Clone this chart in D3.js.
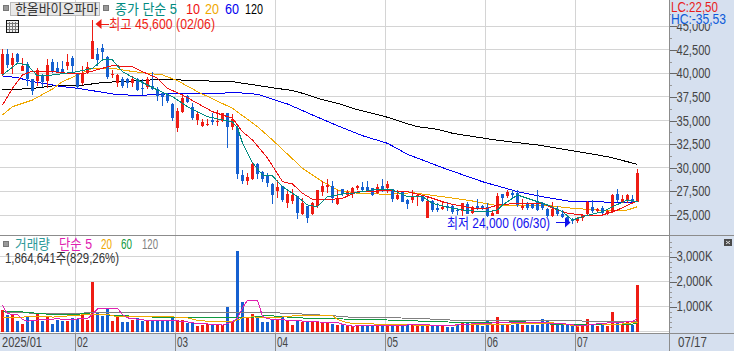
<!DOCTYPE html>
<html>
<head>
<meta charset="utf-8">
<style>
  html, body { margin: 0; padding: 0; background: #fff; overflow: hidden; }
  text { font-family: "Liberation Sans", "Noto Sans CJK KR", sans-serif; }
  .crisp { shape-rendering: crispEdges; }
</style>
</head>
<body>
<svg id="chart" width="734" height="351"></svg>
<script src="https://cdn.jsdelivr.net/npm/d3@7"></script>
<script>
'use strict';

const opens = [
  39900,42000,40850,42000,40250,41000,39350,39200,39700,39200,
  41150,40600,40500,40750,41650,40000,39000,40150,41550,42000,
  42650,41750,39800,39000,39450,39350,39000,39450,38450,38550,
  38700,38300,37950,37850,36800,34200,35900,37650,36450,35050,
  34400,34550,35100,34800,34900,35750,34300,34200,29250,28550,
  28800,30400,29500,29250,28300,27550,28050,26250,26500,27000,
  25100,25900,25100,25950,27450,28000,28050,26150,27700,27100,
  27200,27850,27950,27950,27850,27350,28050,27900,27700,26650,
  27450,26600,26600,27000,27000,24700,26500,25700,25600,26000,
  25900,25500,25450,26150,25250,26000,25950,25800,24900,25150,
  27200,27000,27350,27350,25750,26250,26250,26350,26150,25650,
  24900,25650,25100,24750,24450,24350,24650,25100,25800,25400,
  25700,25250,25400,27200,26300,26600,26650,26400];
const highs = [
  42550,42550,42200,42200,41650,41150,39400,40600,39900,41500,
  41500,41150,41300,42000,41850,40050,40750,41150,45600,42700,
  43100,41850,40350,39900,39650,39550,39700,39550,39350,39650,
  40150,38550,38000,37950,36850,36350,37750,37750,36850,36000,
  35200,35200,35800,36150,35850,35800,35650,34450,29800,29400,
  30550,30500,29650,29400,28350,28700,28100,27650,27700,27050,
  26750,25950,26400,27650,28650,28800,28550,27650,27750,27650,
  28000,28200,28450,28550,27900,28250,28800,28600,27750,27650,
  27550,26650,27650,27150,27100,26950,26600,26250,26400,26400,
  26050,25700,26300,26400,25900,26700,26050,26300,25500,27300,
  27250,27600,27600,27600,26650,26400,26300,27650,26350,25700,
  26400,25950,25500,25000,24650,24750,25100,26500,26600,25750,
  25900,25600,27200,27800,27100,27200,27100,29900];
const lows = [
  39700,40600,39900,40950,40200,38700,37750,38700,38550,38450,
  40000,40000,40000,40350,39900,38300,38800,39900,41500,40750,
  41500,39350,39550,38550,38450,38450,38550,38100,37750,38300,
  38200,37050,36500,36850,34900,33750,35800,36850,35100,34500,
  34300,34400,34550,34450,34800,32100,33950,28800,28300,28200,
  28700,28800,28450,28000,26150,26850,26350,25700,26150,24550,
  25000,24150,25050,25700,27000,27350,26250,26050,27000,26950,
  26850,27650,27450,27450,27000,27200,27450,27350,26350,26600,
  26350,25650,26300,25950,26350,24650,25350,25350,25500,25450,
  25100,25000,24900,25100,25150,25500,25500,24750,24850,25100,
  26050,26850,26850,25800,25500,25500,25600,25450,25500,24750,
  24800,24900,24650,24200,24000,24200,24400,24900,25250,25250,
  25100,25000,25250,26350,26250,26300,26250,26400];
const closes = [
  42000,40850,41650,41150,40750,39350,38100,40400,39050,40850,
  40150,40150,40150,41250,40750,38550,39900,40700,43450,41400,
  42300,39650,39950,39800,38700,38950,39450,38200,38400,39350,
  38300,37600,37500,37050,35250,36000,37400,36950,35250,35650,
  34800,34650,34800,34900,35800,34300,35200,29350,28550,29000,
  30400,29300,28800,28350,27100,28000,26600,27200,27100,25250,
  26300,24700,26250,27600,28050,28200,26750,26850,27200,27450,
  27900,28050,27600,27650,27100,27950,27600,28300,26650,27100,
  26400,26150,27000,27100,26500,26500,25500,25500,25800,25750,
  25300,25450,26250,25150,25800,25700,25700,24900,25250,27050,
  26850,27400,27100,26050,26000,25700,25750,25500,25700,24900,
  25650,25100,24800,24350,24350,24700,25000,26350,25400,25600,
  25250,25450,27100,26600,26650,27100,26400,29400];

// volume in thousands of shares
const volumes = [
  880,680,705,440,320,615,480,745,440,615,
  320,480,415,415,545,520,720,480,2000,775,
  615,945,440,615,375,385,480,545,415,455,
  415,455,415,415,575,480,480,360,375,240,
  280,305,305,280,255,975,415,3240,1185,575,
  720,545,375,375,505,455,575,415,280,480,
  385,440,375,375,375,375,305,280,255,215,
  215,280,215,215,215,215,215,240,280,240,
  305,320,320,320,215,280,215,215,215,185,
  185,280,375,375,375,280,240,440,280,600,
  255,305,255,305,255,255,255,255,520,440,
  385,305,255,305,280,240,240,520,280,215,
  280,215,800,385,255,385,280,1865];

const ma5Days = [0,3,5,7,10,15,18,20,22,24,27,31,34,37,41,46,47,48,50,52,54,56,59,61,63,65,68,70,74,78,81,84,86,90,93,97,99,100,103,105,109,112,114,116,120,122,125,127];
const ma5Values = [39826,41065,40884,39720,39826,40175,40535,41414,41414,40175,39296,38237,37528,36468,35409,34848,34213,32624,30538,29235,29130,27997,26938,26059,25879,26938,27223,27298,27647,27647,26938,26938,26238,25709,25455,25349,25530,26059,27118,26767,26059,25349,24470,24819,25349,25879,26588,26408];
const ma10Days = [0,2,4,6,10,13,16,20,22,26,28,31,33,36,39,42,46,48,50,53,56,58,60,62,66,68,71,77,81,85,89,94,97,99,103,108,110,113,116,120,123,127];
const ma10Values = [36648,38417,39826,40247,40175,40005,39931,40535,40810,40705,40175,39476,38417,37707,36828,35939,35240,33821,32942,31036,28526,28282,27297,26662,26662,26768,27467,27573,27467,26938,26238,25709,25709,26059,26238,26238,25709,25180,25000,25000,25530,26513];
const ma20Days = [0,2,6,10,12,15,18,22,26,32,35,39,46,51,54,60,64,67,71,77,82,88,94,99,108,114,121,125,127];
const ma20Values = [35590,36469,37178,38343,39116,39826,40535,40535,40196,39826,39222,38057,36299,34350,32942,29945,28526,27647,27298,27192,27361,26938,26482,25984,26059,25709,25455,25530,25880];
const ma60Days = [0,3,6,8,12,15,18,22,26,28,35,44,46,51,54,57,62,67,72,77,81,88,96,103,108,114,126,127];
const ma60Values = [39720,39540,39116,38946,38586,38417,38163,37813,37676,37676,37888,37888,37993,37782,37252,36754,35590,34456,33397,32592,31428,30009,28526,27467,26938,26408,26345,26483];
const ma120Days = [0,6,10,15,20,26,32,39,46,55,58,60,63,67,70,74,77,80,83,87,90,93,99,107,114,121,127];
const ma120Values = [38237,38396,38661,38661,39031,39190,39370,39222,39116,38396,38184,37887,37358,36828,36299,35770,35346,34817,34350,34075,33651,33397,32910,32413,31809,31173,30369];

const volMa5Days = [0,1,3,4,5,8,11,13,17,18,19,23,24,25,29,34,37,39,43,44,46,47,48,49,51,52,53,55,58,63,66,67,68,70,74,80,82,89,94,97,98,102,108,112,115,117,119,123,126,127];
const volMa5Values = [1040,705,680,480,415,480,505,480,520,680,905,920,680,545,440,440,385,320,280,255,385,545,945,1255,1240,615,505,480,440,385,345,375,280,215,255,240,280,240,305,305,345,345,345,320,240,255,305,375,385,545];
const volMa20Days = [0,4,6,9,10,17,21,23,34,37,39,43,46,48,50,54,59,66,67,69,73,79,85,89,93,97,103,108,110,112,115,119,123,126,127];
const volMa20Values = [575,575,615,615,575,680,680,585,585,545,440,385,385,545,585,545,640,640,480,345,305,280,240,240,280,280,305,335,345,305,215,305,280,345,345];
const volMa60Days = [0,2,6,10,17,23,34,50,53,59,67,78,88,97,102,107,108,115,123,127];
const volMa60Values = [815,815,745,680,705,640,545,575,640,545,505,455,385,345,385,375,305,280,280,305];
const volMa120Days = [0,4,10,18,30,48,55,62,67,71,79,85,90,98,108,115,116,127];
const volMa120Values = [785,745,720,745,745,745,745,680,615,545,545,505,455,455,440,440,415,385];

const priceTicks = [25000,27500,30000,32500,35000,37500,40000,42500,45000];
const volumeTicks = [1000,2000,3000];
const monthStarts = [15,35,55,77,97,115];
const monthLabels = ['02','03','04','05','06','07'];

const RED = '#ee1c14';
const BLUE = '#1560d0';
const PANEL = '#d6e0ef';
const GRID = '#d4d4d4';
const EDGE = '#8c8c8c';

const svg = d3.select('#chart');

const x = d3.scaleLinear().domain([0, 127]).range([2.5, 637.5]);
const yPrice = d3.scaleLinear().domain([25000, 45000]).range([215, 26.1]);
const yVolume = d3.scaleLinear().domain([0, 3000]).range([331.5, 256.5]);

function snap(v) {
  return Math.floor(v) + 0.5;
}

function label(text, left, baseline, color, width, size) {
  return svg.append('text')
    .attr('x', left)
    .attr('y', baseline)
    .attr('fill', color)
    .attr('font-size', size || 14)
    .attr('textLength', width)
    .attr('lengthAdjust', 'spacingAndGlyphs')
    .text(text);
}

function hLine(y, x1, x2, color) {
  svg.append('line').attr('class', 'crisp')
    .attr('x1', x1).attr('x2', x2).attr('y1', y).attr('y2', y)
    .attr('stroke', color);
}

function vLine(xPos, y1, y2, color) {
  svg.append('line').attr('class', 'crisp')
    .attr('x1', xPos).attr('x2', xPos).attr('y1', y1).attr('y2', y2)
    .attr('stroke', color);
}

function drawAverage(days, values, yScale, color) {
  const line = d3.line()
    .x((d, i) => x(days[i]))
    .y(d => yScale(d));
  svg.append('path').datum(values)
    .attr('class', 'crisp')
    .attr('fill', 'none')
    .attr('stroke', color)
    .attr('d', line);
}

function drawAxis(yScale, ticks, minorTicks, format, textWidth) {
  const major = d3.axisRight(yScale).tickValues(ticks).tickSize(7).tickPadding(0).tickFormat(format);
  const minor = d3.axisRight(yScale).tickValues(minorTicks).tickSize(2).tickFormat('');

  const minorGroup = svg.append('g').attr('class', 'crisp').attr('transform', 'translate(669.5,0)').call(minor);
  minorGroup.select('.domain').remove();
  minorGroup.selectAll('line').attr('stroke', '#999');

  const majorGroup = svg.append('g').attr('transform', 'translate(669.5,0)').call(major);
  majorGroup.select('.domain').remove();
  majorGroup.selectAll('line').attr('class', 'crisp').attr('stroke', '#666');
  majorGroup.selectAll('text')
    .attr('fill', '#444')
    .attr('font-size', 14)
    .attr('font-family', '"Liberation Sans", sans-serif')
    .attr('textLength', textWidth)
    .attr('lengthAdjust', 'spacingAndGlyphs');
}

// panels
svg.append('rect').attr('width', 734).attr('height', 351).attr('fill', '#fff');
svg.append('rect').attr('class', 'crisp').attr('x', 670).attr('width', 64).attr('height', 351).attr('fill', PANEL);
svg.append('rect').attr('class', 'crisp').attr('y', 333).attr('width', 734).attr('height', 18).attr('fill', PANEL);

// grid
priceTicks.forEach(v => hLine(snap(yPrice(v)), 0, 669, GRID));
[0].concat(volumeTicks).forEach(v => hLine(snap(yVolume(v)), 0, 669, GRID));
monthStarts.forEach(i => {
  vLine(x(i) - 2, 0, 333, GRID);
  vLine(x(i) - 2, 333, 351, EDGE);
});

// volume bars
svg.append('g').attr('class', 'crisp').selectAll('rect')
  .data(volumes)
  .join('rect')
  .attr('x', (d, i) => x(i) - 1.5)
  .attr('width', 3)
  .attr('y', d => yVolume(d))
  .attr('height', d => yVolume(0) + 0.5 - yVolume(d))
  .attr('fill', (d, i) => closes[i] >= opens[i] ? RED : BLUE);

drawAverage(volMa120Days, volMa120Values, yVolume, '#808080');
drawAverage(volMa60Days, volMa60Values, yVolume, '#109a40');
drawAverage(volMa20Days, volMa20Values, yVolume, '#f0a800');
drawAverage(volMa5Days, volMa5Values, yVolume, '#e020b0');

// moving averages behind the candles
drawAverage(ma120Days, ma120Values, yPrice, '#000');
drawAverage(ma60Days, ma60Values, yPrice, '#0000f0');
drawAverage(ma20Days, ma20Values, yPrice, '#f0a800');

// candles
const candles = svg.append('g').attr('class', 'crisp').selectAll('g')
  .data(opens)
  .join('g')
  .attr('fill', (d, i) => closes[i] >= opens[i] ? RED : BLUE)
  .attr('stroke', (d, i) => closes[i] >= opens[i] ? RED : BLUE);

candles.append('line')
  .attr('x1', (d, i) => x(i))
  .attr('x2', (d, i) => x(i))
  .attr('y1', (d, i) => yPrice(highs[i]))
  .attr('y2', (d, i) => yPrice(lows[i]));

candles.append('rect')
  .attr('stroke', 'none')
  .attr('x', (d, i) => x(i) - 1.5)
  .attr('width', 3)
  .attr('y', (d, i) => yPrice(Math.max(opens[i], closes[i])))
  .attr('height', (d, i) => Math.max(1, Math.abs(yPrice(opens[i]) - yPrice(closes[i]))));

drawAverage(ma10Days, ma10Values, yPrice, '#ee1111');
drawAverage(ma5Days, ma5Values, yPrice, '#008a80');

// frame lines
vLine(669.5, 0, 351, EDGE);
hLine(235.5, 0, 734, EDGE);
hLine(333.5, 0, 734, EDGE);

// right axes
drawAxis(yPrice, priceTicks, d3.range(26250, 46300, 2500), d3.format(','), 34);
drawAxis(yVolume, volumeTicks, d3.range(0, 3700, 200).filter(v => v % 1000 !== 0), d => d3.format(',')(d) + 'K', 36);

// LC / HC box covers the top of the 45,000 label
svg.append('rect').attr('class', 'crisp').attr('x', 671).attr('width', 63).attr('height', 24).attr('fill', PANEL);
label('LC:22,50', 671, 12, '#e81c1c', 47);
label('HC:-35,53', 671, 24, '#0d5ad8', 55);

// date labels
label('2025/01', 2, 346.5, '#444', 40);
monthLabels.forEach((m, i) => label(m, x(monthStarts[i]) - 0.5, 346.5, '#444', 11));
label('07/17', 678, 346.5, '#444', 29);

// price header
svg.append('rect').attr('class', 'crisp').attr('x', 3).attr('y', 5).attr('width', 5).attr('height', 5).attr('fill', '#999').attr('stroke', '#777');
svg.append('rect').attr('class', 'crisp').attr('x', 10.5).attr('y', 2.5).attr('width', 89).attr('height', 13).attr('fill', '#e8e8e8').attr('stroke', '#bbb');
label('한올바이오파마', 15, 13.5, '#333', 83);
svg.append('rect').attr('class', 'crisp').attr('x', 103).attr('y', 5).attr('width', 5).attr('height', 5).attr('fill', '#999').attr('stroke', '#777');
label('종가 단순 5', 115, 13.5, '#008a80', 62);
label('10', 186, 13.5, '#ee1111', 14);
label('20', 205, 13.5, '#f0a800', 14);
label('60', 225, 13.5, '#0000f0', 14);
label('120', 245, 13.5, '#000', 18);

// table icon
svg.append('rect').attr('class', 'crisp').attr('x', 6.5).attr('y', 20.5).attr('width', 12).attr('height', 12).attr('fill', '#eee').attr('stroke', '#111');
[9.5, 12.5, 15.5].forEach(p => vLine(p, 22, 32, '#777'));
[23.5, 26.5, 29.5].forEach(p => hLine(p, 7, 18, '#777'));

// high marker
label('최고 45,600 (02/06)', 109, 28.5, RED, 106);
svg.append('path')
  .attr('fill', RED)
  .attr('d', d3.line()([[95.5, 24], [101.5, 19], [101.5, 29]]) + 'Z');
hLine(24.5, 100, 109, RED);

// low marker
label('최저 24,000 (06/30)', 447, 227.5, '#1010ee', 103);
svg.append('path')
  .attr('fill', '#1010ee')
  .attr('d', d3.line()([[570.5, 222.5], [565, 217.5], [565, 227.5]]) + 'Z');
hLine(222.5, 556, 566, '#1010ee');

// volume header
svg.append('rect').attr('class', 'crisp').attr('x', 3).attr('y', 241).attr('width', 5).attr('height', 5).attr('fill', '#999').attr('stroke', '#777');
label('거래량', 15, 249, '#2f9a9a', 35);
label('단순 5', 59, 249, '#e020b0', 33);
label('20', 101, 249, '#f0a800', 11);
label('60', 121, 249, '#109a40', 11);
label('120', 142, 249, '#808080', 16);
label('1,864,641주(829,26%)', 5, 262.5, '#333', 114);

// close button
svg.append('rect').attr('class', 'crisp').attr('x', 724).attr('y', 239).attr('width', 8).attr('height', 7).attr('fill', '#4a4a4a');
svg.append('path').attr('stroke', '#ddd').attr('fill', 'none')
  .attr('d', 'M726,241L730,244M730,241L726,244');
</script>
</body>
</html>
